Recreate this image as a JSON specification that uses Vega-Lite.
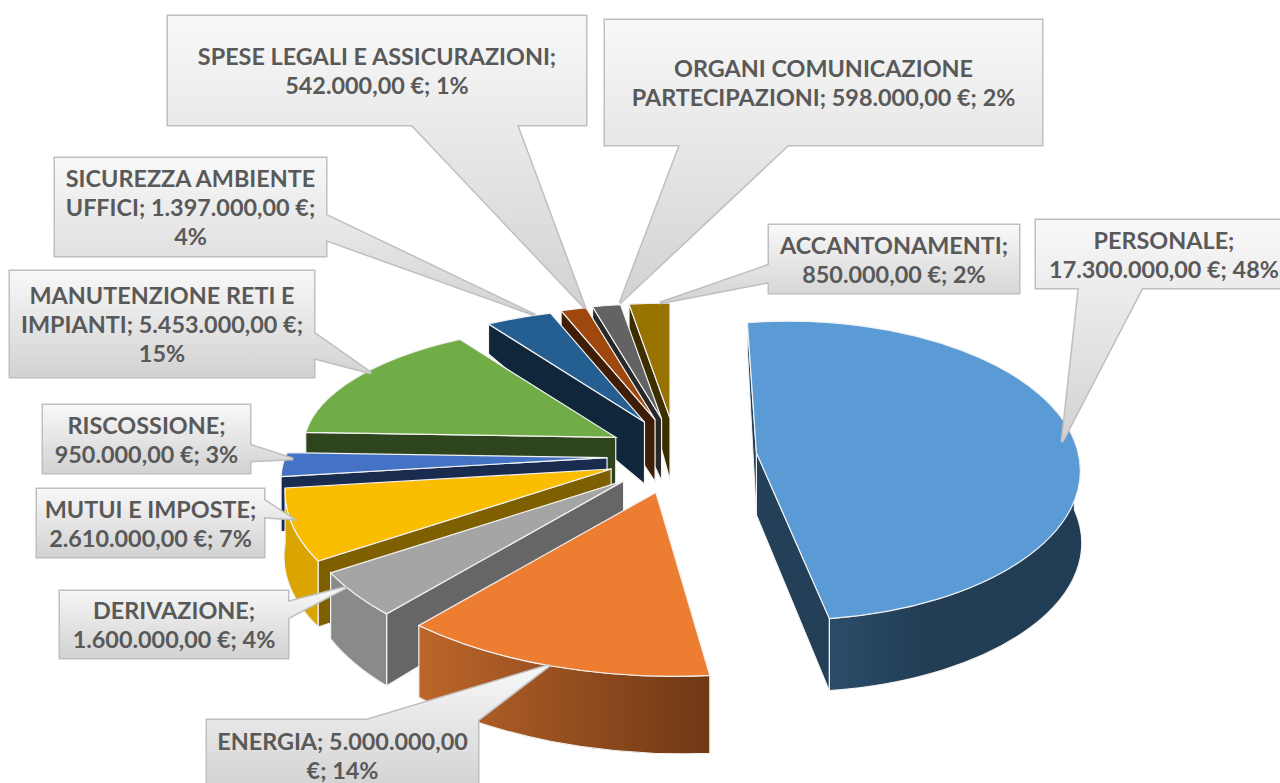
{
"$schema":"https://vega.github.io/schema/vega-lite/v6.json",
"width":1280,"height":783,"padding":0,"autosize":{"type":"none"},
"background":"white","config":{"view":{"stroke":null}},
"datasets":{
"callouts":[
{"label":"SPESE LEGALI E ASSICURAZIONI;\n542.000,00 €; 1%","l":168,"t":16,"r":586,"b":125,"ax":412,"ay":125,"bx":517,"by":125,"tx":585,"ty":308},
{"label":"ORGANI COMUNICAZIONE\nPARTECIPAZIONI; 598.000,00 €; 2%","l":605,"t":20,"r":1042,"b":145,"ax":680,"ay":145,"bx":788,"by":145,"tx":620,"ty":303},
{"label":"ACCANTONAMENTI;\n850.000,00 €; 2%","l":769,"t":225,"r":1019,"b":293,"ax":769,"ay":265,"bx":769,"by":282,"tx":660,"ty":303},
{"label":"PERSONALE;\n17.300.000,00 €; 48%","l":1036,"t":220,"r":1292,"b":288,"ax":1079,"ay":288,"bx":1142,"by":288,"tx":1062,"ty":442},
{"label":"SICUREZZA AMBIENTE\nUFFICI; 1.397.000,00 €;\n4%","l":55,"t":158,"r":326,"b":256,"ax":326,"ay":215,"bx":326,"by":240,"tx":535,"ty":315},
{"label":"MANUTENZIONE RETI E\nIMPIANTI; 5.453.000,00 €;\n15%","l":10,"t":271,"r":314,"b":377,"ax":314,"ay":333,"bx":314,"by":358,"tx":371,"ty":373},
{"label":"RISCOSSIONE;\n950.000,00 €; 3%","l":43,"t":405,"r":250,"b":473,"ax":250,"ay":445,"bx":250,"by":461,"tx":293,"ty":459},
{"label":"MUTUI E IMPOSTE;\n2.610.000,00 €; 7%","l":37,"t":489,"r":264,"b":557,"ax":264,"ay":500,"bx":264,"by":517,"tx":293,"ty":519},
{"label":"DERIVAZIONE;\n1.600.000,00 €; 4%","l":60,"t":591,"r":288,"b":658,"ax":288,"ay":602,"bx":288,"by":618,"tx":347,"ty":587},
{"label":"ENERGIA; 5.000.000,00\n€; 14%","l":207,"t":720,"r":478,"b":790,"ax":367,"ay":720,"bx":478,"by":720,"tx":550,"ty":665}
]},
"data":{"values":[
{"voce":"PERSONALE","euro":17300000,"explode":1.2},
{"voce":"ENERGIA","euro":5000000,"explode":1},
{"voce":"DERIVAZIONE","euro":1600000,"explode":1},
{"voce":"MUTUI E IMPOSTE","euro":2610000,"explode":1},
{"voce":"RISCOSSIONE","euro":950000,"explode":1},
{"voce":"MANUTENZIONE RETI E IMPIANTI","euro":5453000,"explode":1},
{"voce":"SICUREZZA AMBIENTE UFFICI","euro":1397000,"explode":1},
{"voce":"SPESE LEGALI E ASSICURAZIONI","euro":542000,"explode":1},
{"voce":"ORGANI COMUNICAZIONE PARTECIPAZIONI","euro":598000,"explode":1},
{"voce":"ACCANTONAMENTI","euro":850000,"explode":1}
]},
"transform":[
{"joinaggregate":[{"op":"sum","field":"euro","as":"tot"}]},
{"window":[{"op":"sum","field":"euro","as":"cum"},{"op":"row_number","as":"idx"}]},
{"calculate":"datum.cum/datum.tot*2*PI","as":"a1"},
{"calculate":"datum.a1-datum.euro/datum.tot*2*PI","as":"a0"},
{"calculate":"(datum.a0+datum.a1)/2","as":"mid"},
{"calculate":"datum.explode>1","as":"big"},
{"calculate":"cos(datum.a0)>=0&&cos(datum.a1)>=0","as":"up"},
{"calculate":"675+datum.explode*68*sin(datum.mid)","as":"ax"},
{"calculate":"456-datum.explode*38*cos(datum.mid)","as":"ay"},
{"calculate":"datum.big?315:datum.up?312-35*cos(datum.a0):322-50*cos(datum.a0)","as":"rx0"},
{"calculate":"datum.big?315:datum.up?312-35*cos(datum.a1):322-50*cos(datum.a1)","as":"rx1"},
{"calculate":"datum.big?130:cos(datum.a0)>0?130-15*cos(datum.a0):150-35*cos(datum.a0)","as":"r0"},
{"calculate":"datum.big?168:cos(datum.a1)>0?130-15*cos(datum.a1):150-35*cos(datum.a1)","as":"r1"},
{"calculate":"(datum.r0+datum.r1)/2","as":"rr"},
{"calculate":"datum.big?291:(datum.rx0+datum.rx1)/2","as":"rxm"},
{"calculate":"round(datum.rx0*sin(datum.a0))-(datum.big?9:0)","as":"p0x"},
{"calculate":"round(-datum.r0*cos(datum.a0))","as":"p0y"},
{"calculate":"round(datum.rx1*sin(datum.a1))+(datum.big?27:0)","as":"p1x"},
{"calculate":"round(-datum.r1*cos(datum.a1))","as":"p1y"},
{"calculate":"round(52-26*cos(datum.a0))","as":"d0"},
{"calculate":"round(52-26*cos(datum.a1))-(datum.big?6:0)","as":"d1"},
{"calculate":"' '+round(datum.rxm)+' '+round(datum.rr)+' 0 0 '","as":"arc"},
{"calculate":"'M0 0L'+datum.p0x+' '+datum.p0y+'A'+datum.arc+'1 '+datum.p1x+' '+datum.p1y+'Z'","as":"pathTop"},
{"calculate":"'M0 0L'+datum.p0x+' '+datum.p0y+'L'+datum.p0x+' '+(datum.p0y+datum.d0)+'L0 62Z'","as":"faceA"},
{"calculate":"'M0 0L'+datum.p1x+' '+datum.p1y+'L'+datum.p1x+' '+(datum.p1y+datum.d1)+'L0 62Z'","as":"faceB"},
{"calculate":"datum.big?datum.faceA+datum.faceB:datum.faceA","as":"pathRadial"},
{"calculate":"max(datum.a0,PI/2)","as":"c0"},
{"calculate":"min(datum.a1,3*PI/2)","as":"c1"},
{"calculate":"datum.big?datum.rxm+27:round((322-50*cos(datum.c0))*sin(datum.c0))","as":"q0x"},
{"calculate":"datum.big?25:round(-(150-35*cos(datum.c0))*cos(datum.c0))","as":"q0y"},
{"calculate":"datum.big?datum.p1x:round((322-50*cos(datum.c1))*sin(datum.c1))","as":"q1x"},
{"calculate":"datum.big?datum.p1y:round(-(150-35*cos(datum.c1))*cos(datum.c1))","as":"q1y"},
{"calculate":"datum.big?32:round(52-26*cos(datum.c0))","as":"e0"},
{"calculate":"datum.big?datum.d1:round(52-26*cos(datum.c1))","as":"e1"},
{"calculate":"datum.c1-datum.c0<0.15?'M0 0Z':'M'+datum.q0x+' '+datum.q0y+'A'+datum.arc+'1 '+datum.q1x+' '+datum.q1y+'L'+datum.q1x+' '+(datum.q1y+datum.e1)+'A'+datum.arc+'0 '+datum.q0x+' '+(datum.q0y+datum.e0)+'Z'","as":"pathArc"},
{"fold":["pathRadial","pathArc","pathTop"],"as":["part","path"]},
{"calculate":"-datum.idx*3+(datum.part=='pathRadial'?0:datum.part=='pathArc'?1:2)","as":"rank"},
{"calculate":"datum.voce+'|'+datum.part","as":"key"}
],
"encoding":{
"x":{"field":"ax","type":"quantitative","scale":{"domain":[0,1280]},"axis":null},
"y":{"field":"ay","type":"quantitative","scale":{"domain":[783,0]},"axis":null},
"shape":{"field":"path","type":"nominal","scale":null},
"size":{"value":4}
},
"layer":[
{"transform":[{"filter":"datum.idx>2"}],
"mark":{"type":"point","filled":true,"opacity":1,"stroke":"#f2f2f2","strokeWidth":1.2},
"encoding":{"order":{"field":"rank","type":"quantitative"},
"fill":{"field":"key","type":"nominal","legend":null,"scale":{
"domain":["DERIVAZIONE|pathRadial","DERIVAZIONE|pathArc","DERIVAZIONE|pathTop","MUTUI E IMPOSTE|pathRadial","MUTUI E IMPOSTE|pathArc","MUTUI E IMPOSTE|pathTop","RISCOSSIONE|pathRadial","RISCOSSIONE|pathArc","RISCOSSIONE|pathTop","MANUTENZIONE RETI E IMPIANTI|pathRadial","MANUTENZIONE RETI E IMPIANTI|pathArc","MANUTENZIONE RETI E IMPIANTI|pathTop","SICUREZZA AMBIENTE UFFICI|pathRadial","SICUREZZA AMBIENTE UFFICI|pathArc","SICUREZZA AMBIENTE UFFICI|pathTop","SPESE LEGALI E ASSICURAZIONI|pathRadial","SPESE LEGALI E ASSICURAZIONI|pathArc","SPESE LEGALI E ASSICURAZIONI|pathTop","ORGANI COMUNICAZIONE PARTECIPAZIONI|pathRadial","ORGANI COMUNICAZIONE PARTECIPAZIONI|pathArc","ORGANI COMUNICAZIONE PARTECIPAZIONI|pathTop","ACCANTONAMENTI|pathRadial","ACCANTONAMENTI|pathArc","ACCANTONAMENTI|pathTop"],
"range":["#666666","#8a8a8a","#a5a5a5","#7f6000","#daa500","#fbbd00","#1a2b50","#3a61a8","#4472c4","#2d441c","#5a8a38","#70ad47","#0f263b","#1d4a72","#255e91","#3f1d06","#7a380b","#9e480e","#282828","#4d4d4d","#636363","#3d2e00","#7a5c00","#997300"]}}}},
{"transform":[{"filter":"datum.idx==2&&datum.part=='pathRadial'"}],"mark":{"type":"point","filled":true,"opacity":1,"fill":"#803f12","stroke":"#f2f2f2","strokeWidth":1.2}},
{"transform":[{"filter":"datum.idx==2&&datum.part=='pathArc'"}],"mark":{"type":"point","filled":true,"opacity":1,"stroke":"#f2f2f2","strokeWidth":1.2,"fill":{"gradient":"linear","x1":0,"y1":0,"x2":1,"y2":0,"stops":[{"offset":0,"color":"#bd662a"},{"offset":1,"color":"#6f3815"}]}}},
{"transform":[{"filter":"datum.idx==2&&datum.part=='pathTop'"}],"mark":{"type":"point","filled":true,"opacity":1,"fill":"#ed7d31","stroke":"#f2f2f2","strokeWidth":1.2}},
{"transform":[{"filter":"datum.idx==1&&datum.part=='pathRadial'"}],"mark":{"type":"point","filled":true,"opacity":1,"fill":"#234058","stroke":"#f2f2f2","strokeWidth":1}},
{"transform":[{"filter":"datum.idx==1&&datum.part=='pathArc'"}],"mark":{"type":"point","filled":true,"opacity":1,"stroke":"#f2f2f2","strokeWidth":1.2,"fill":{"gradient":"linear","x1":0,"y1":0,"x2":1,"y2":0,"stops":[{"offset":0,"color":"#2b4c69"},{"offset":0.4,"color":"#223d54"},{"offset":1,"color":"#213d55"}]}}},
{"transform":[{"filter":"datum.idx==1&&datum.part=='pathTop'"}],"mark":{"type":"point","filled":true,"opacity":1,"fill":"#5b9bd5","stroke":"#f2f2f2","strokeWidth":1.2}},
{"data":{"name":"callouts"},
"transform":[{"calculate":"'M0 0L'+(datum.r-datum.l)+' 0L'+(datum.r-datum.l)+' '+(datum.b-datum.t)+'L0 '+(datum.b-datum.t)+'ZM'+(datum.ax-datum.l)+' '+(datum.ay-datum.t)+'L'+(datum.tx-datum.l)+' '+(datum.ty-datum.t)+'L'+(datum.bx-datum.l)+' '+(datum.by-datum.t)+'Z'","as":"outline"}],
"mark":{"type":"point","filled":false,"opacity":1,"stroke":"#bfbfbf","strokeWidth":3},
"encoding":{"x":{"field":"l","type":"quantitative"},"y":{"field":"t","type":"quantitative"},"shape":{"field":"outline","type":"nominal","scale":null},"size":{"value":4}}},
{"data":{"name":"callouts"},
"transform":[{"calculate":"'M0 0L'+(datum.r-datum.l)+' 0L'+(datum.r-datum.l)+' '+(datum.b-datum.t)+'L0 '+(datum.b-datum.t)+'ZM'+(datum.ax-datum.l)+' '+(datum.ay-datum.t)+'L'+(datum.tx-datum.l)+' '+(datum.ty-datum.t)+'L'+(datum.bx-datum.l)+' '+(datum.by-datum.t)+'Z'","as":"outline"}],
"mark":{"type":"point","filled":true,"opacity":1,"strokeWidth":0,"fill":{"gradient":"linear","x1":0,"y1":0,"x2":0,"y2":1,"stops":[{"offset":0,"color":"#f8f8f8"},{"offset":1,"color":"#d2d2d2"}]}},
"encoding":{"x":{"field":"l","type":"quantitative"},"y":{"field":"t","type":"quantitative"},"shape":{"field":"outline","type":"nominal","scale":null},"size":{"value":4}}},
{"data":{"name":"callouts"},
"transform":[{"calculate":"(datum.l+datum.r)/2","as":"cx"},{"calculate":"(datum.t+datum.b)/2-(length(split(datum.label,'\\n'))-1)*14.5+2","as":"cy"}],
"mark":{"type":"text","font":"Lato","fontWeight":"bold","fontSize":23.4,"lineHeight":29,"lineBreak":"\n","fill":"#595959","align":"center","baseline":"middle"},
"encoding":{"x":{"field":"cx","type":"quantitative"},"y":{"field":"cy","type":"quantitative"},"text":{"field":"label"},"shape":null,"size":null}}
]
}
